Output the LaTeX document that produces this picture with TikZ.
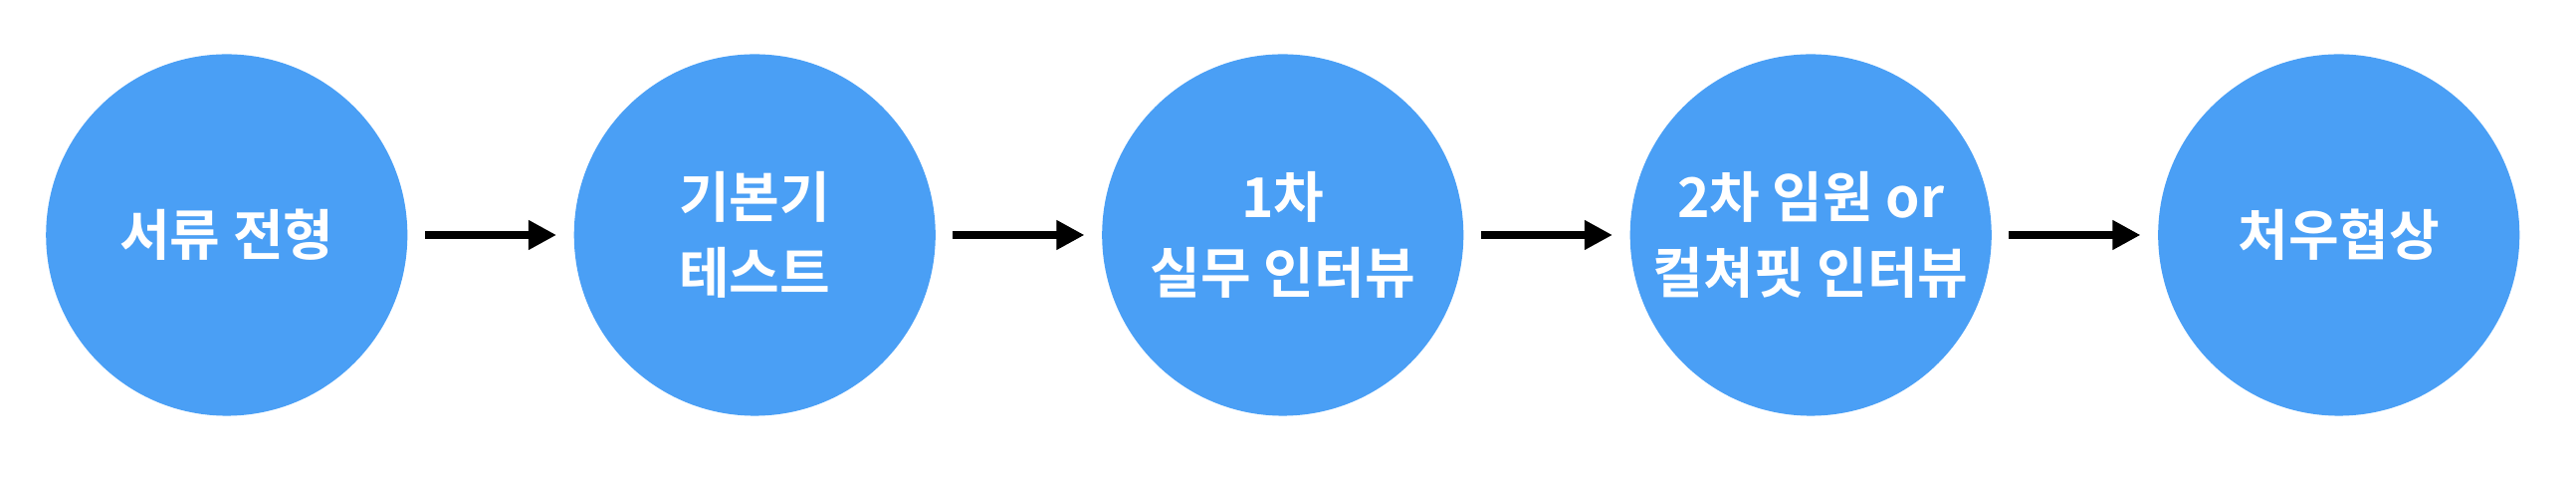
\documentclass[tikz,border=0pt]{standalone}
\usepackage{fontspec}
\newfontfamily\kr{Noto Sans CJK KR}[BoldFont=* Bold]
\usetikzlibrary{positioning,arrows.meta}
\definecolor{stepblue}{HTML}{4A9FF5}
\begin{document}
\begin{tikzpicture}[
        node distance=1.0cm,
        stage/.style={circle, fill=stepblue, minimum size=2.2cm, inner sep=0pt, text=white, font=\kr\bfseries\fontsize{9.5}{13}\selectfont, align=center},
        arrow/.style={-{Triangle[length=0.17cm,width=0.17cm]}, line width=1.3pt}
    ]
        \useasboundingbox (0,0) rectangle (15.68,2.9);
        % Stages
        \node[stage] (docs) at (1.38,1.47) {서류 전형};
        \node[stage, right=of docs] (basic) {기본기\\테스트};
        \node[stage, right=of basic] (first) {1차\\실무 인터뷰};
        \node[stage, right=of first] (second) {2차 임원 or\\컬쳐핏 인터뷰};
        \node[stage, right=of second] (offer) {처우협상};

        % Arrows
        \foreach \a/\b in {docs/basic, basic/first, first/second, second/offer}
            \draw[arrow] ([xshift=0.1cm]\a.east) -- ([xshift=-0.1cm]\b.west);
    \end{tikzpicture}
\end{document}
